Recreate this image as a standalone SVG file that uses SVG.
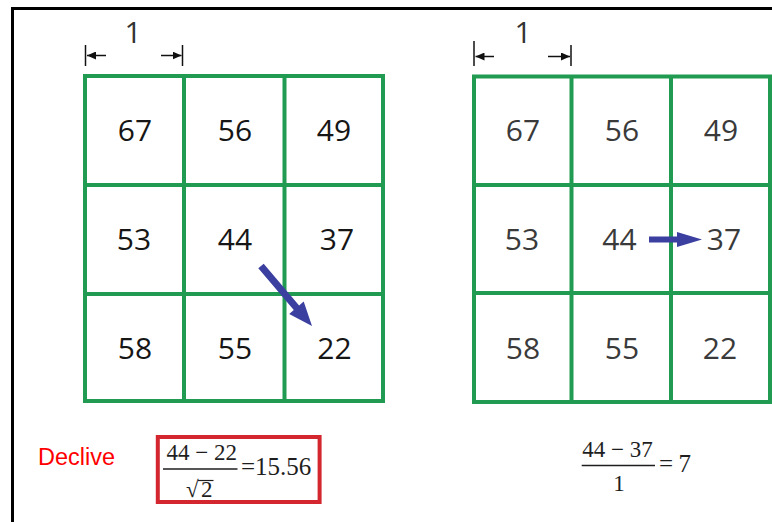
<svg xmlns="http://www.w3.org/2000/svg" width="772" height="522" viewBox="0 0 772 522">
<style>
.grid{fill:none;stroke:#219a52;stroke-width:4}
.numL{font-family:"Open Sans",sans-serif;font-size:30px;fill:#161616;text-anchor:middle}
.numR{font-family:"Open Sans",sans-serif;font-size:30px;fill:#3a3a3a;text-anchor:middle}
.dim{font-family:"Open Sans",sans-serif;font-size:30px;fill:#333;text-anchor:middle}
.dimline{stroke:#111;stroke-width:1.5;fill:none}
.math{font-family:"Liberation Serif","Times New Roman",serif;fill:#1e1e1e}
.arrow{fill:#3b3f9f}
</style>
<defs>
<marker id="dimhead" markerUnits="userSpaceOnUse" markerWidth="9" markerHeight="8" refX="9" refY="4" orient="auto">
<path d="M0,0 L9,4 L0,8 Z" fill="#111"/>
</marker>
</defs>
<rect width="772" height="522" fill="#fff"/>
<path d="M12.5,522 V8.5 H772" fill="none" stroke="#000" stroke-width="3"/>

<g id="grid-left">
<path class="grid" d="M85,76 H383 V401 H85 Z M184,76 V401 M284.5,76 V401 M85,185 H383 M85,294 H383"/>
<text class="numL" x="135" y="141">67</text>
<text class="numL" x="235" y="141">56</text>
<text class="numL" x="334" y="141">49</text>
<text class="numL" x="134" y="250">53</text>
<text class="numL" x="235" y="250">44</text>
<text class="numL" x="337" y="250">37</text>
<text class="numL" x="135" y="359">58</text>
<text class="numL" x="235" y="359">55</text>
<text class="numL" x="334.5" y="359">22</text>
</g>

<g id="grid-right">
<path class="grid" d="M474,76.5 H770 V402 H474 Z M571.5,76.5 V402 M671,76.5 V402 M474,185 H770 M474,293 H770"/>
<text class="numR" x="523" y="141">67</text>
<text class="numR" x="622" y="141">56</text>
<text class="numR" x="721" y="141">49</text>
<text class="numR" x="522" y="250">53</text>
<text class="numR" x="619.5" y="250">44</text>
<text class="numR" x="724" y="250">37</text>
<text class="numR" x="523" y="359">58</text>
<text class="numR" x="622" y="359">55</text>
<text class="numR" x="720" y="359">22</text>
</g>

<g id="dim-left">
<text class="dim" x="133" y="43">1</text>
<line class="dimline" x1="85.5" y1="45" x2="85.5" y2="66"/>
<line class="dimline" x1="182.5" y1="45" x2="182.5" y2="66"/>
<line class="dimline" x1="106" y1="55.5" x2="87" y2="55.5" marker-end="url(#dimhead)"/>
<line class="dimline" x1="161" y1="55.5" x2="181.5" y2="55.5" marker-end="url(#dimhead)"/>
</g>

<g id="dim-right">
<text class="dim" x="523" y="43">1</text>
<line class="dimline" x1="474" y1="41" x2="474" y2="66"/>
<line class="dimline" x1="571" y1="45" x2="571" y2="66"/>
<line class="dimline" x1="494" y1="56.5" x2="475.5" y2="56.5" marker-end="url(#dimhead)"/>
<line class="dimline" x1="548" y1="56.5" x2="570" y2="56.5" marker-end="url(#dimhead)"/>
</g>

<g id="connectors">
<path class="arrow" d="M258.3,268.3 L263.7,263.7 L299.1,305.4 L303.7,301.5 L312,326 L289.2,313.9 L293.8,310 Z"/>
<path class="arrow" d="M649,236.5 L677,236.5 L677,232 L702,239.5 L677,247 L677,242.5 L649,242.5 Z"/>
</g>

<g id="label-declive">
<text x="38" y="465" font-family="Liberation Sans, Arial, sans-serif" font-size="23.5" fill="#ff0000">Declive</text>
</g>

<g id="formula-left">
<rect x="157.8" y="437" width="161.8" height="65" fill="none" stroke="#d3262f" stroke-width="4"/>
<text class="math" x="201.7" y="460" font-size="23" text-anchor="middle">44 − 22</text>
<line x1="163" y1="469" x2="237.5" y2="469" stroke="#1e1e1e" stroke-width="1.3"/>
<text class="math" x="241" y="475" font-size="25">=15.56</text>
<text class="math" x="186" y="496.5" font-size="23">√</text>
<text class="math" x="201" y="496.5" font-size="23">2</text>
<line x1="198" y1="480.5" x2="213.5" y2="480.5" stroke="#1e1e1e" stroke-width="1.2"/>
</g>

<g id="formula-right">
<text class="math" x="617.5" y="457" font-size="23" text-anchor="middle">44 − 37</text>
<line x1="581.7" y1="465.5" x2="655" y2="465.5" stroke="#1e1e1e" stroke-width="1.3"/>
<text class="math" x="659" y="472" font-size="25">=</text>
<text class="math" x="678.5" y="472" font-size="25">7</text>
<text class="math" x="619" y="491" font-size="23" text-anchor="middle">1</text>
</g>
</svg>
